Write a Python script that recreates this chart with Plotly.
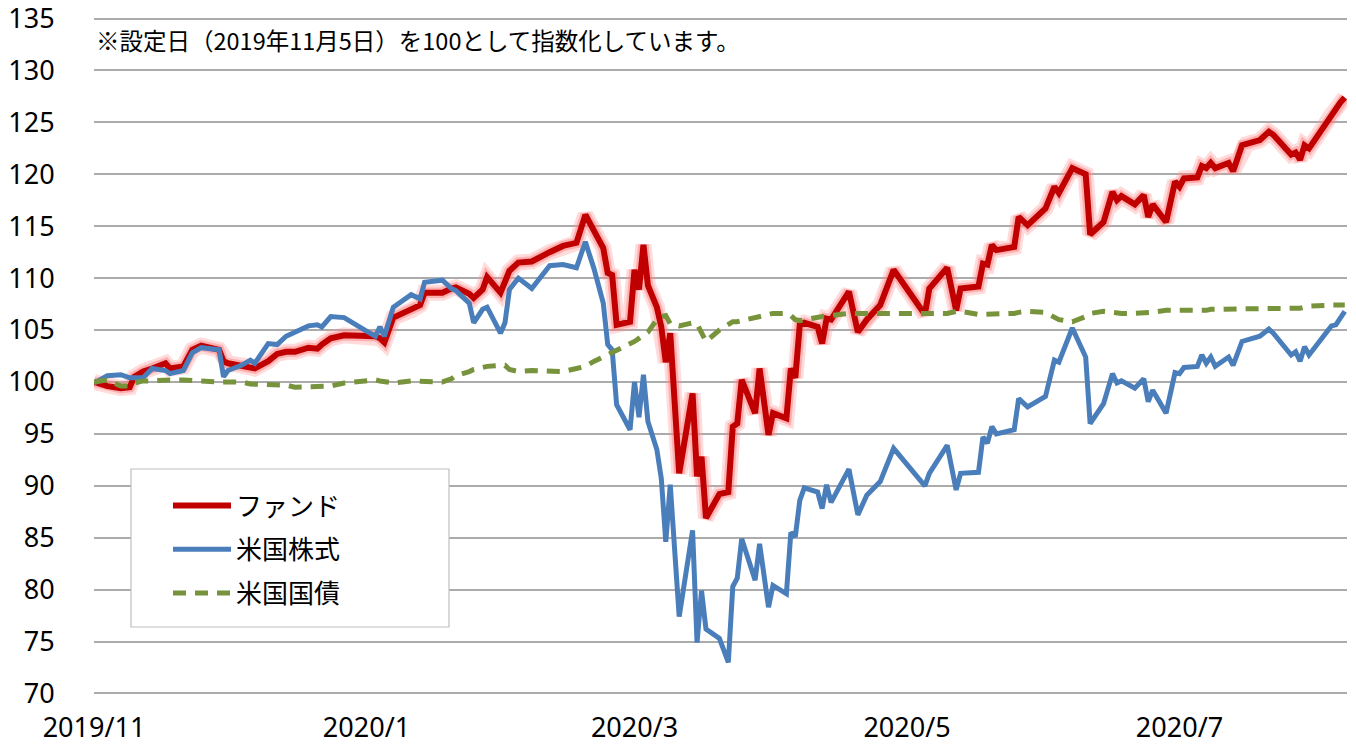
import plotly.graph_objects as go

dates = [
    "2019-11-05", "2019-11-08", "2019-11-11", "2019-11-13", "2019-11-14", "2019-11-16", "2019-11-18", "2019-11-21", "2019-11-22", "2019-11-25",
    "2019-11-27", "2019-11-29", "2019-12-03", "2019-12-04", "2019-12-05", "2019-12-08", "2019-12-10", "2019-12-11", "2019-12-14", "2019-12-16",
    "2019-12-18", "2019-12-20", "2019-12-23", "2019-12-25", "2019-12-26", "2019-12-28", "2019-12-31", "2020-01-05", "2020-01-07", "2020-01-08",
    "2020-01-09", "2020-01-11", "2020-01-15", "2020-01-17", "2020-01-18", "2020-01-22", "2020-01-24", "2020-01-25", "2020-01-28", "2020-01-29",
    "2020-01-31", "2020-02-01", "2020-02-04", "2020-02-05", "2020-02-06", "2020-02-08", "2020-02-11", "2020-02-15", "2020-02-18", "2020-02-21",
    "2020-02-23", "2020-02-25", "2020-02-27", "2020-02-28", "2020-02-29", "2020-03-01", "2020-03-04", "2020-03-05", "2020-03-06", "2020-03-07",
    "2020-03-08", "2020-03-10", "2020-03-11", "2020-03-12", "2020-03-13", "2020-03-15", "2020-03-18", "2020-03-19", "2020-03-20", "2020-03-21",
    "2020-03-24", "2020-03-26", "2020-03-27", "2020-03-28", "2020-03-29", "2020-04-01", "2020-04-02", "2020-04-04", "2020-04-05", "2020-04-08",
    "2020-04-09", "2020-04-10", "2020-04-11", "2020-04-12", "2020-04-15", "2020-04-16", "2020-04-17", "2020-04-18", "2020-04-22", "2020-04-24",
    "2020-04-26", "2020-04-29", "2020-05-02", "2020-05-09", "2020-05-10", "2020-05-14", "2020-05-16", "2020-05-17", "2020-05-21", "2020-05-22",
    "2020-05-23", "2020-05-24", "2020-05-25", "2020-05-29", "2020-05-30", "2020-06-01", "2020-06-05", "2020-06-07", "2020-06-08", "2020-06-11",
    "2020-06-14", "2020-06-15", "2020-06-18", "2020-06-20", "2020-06-21", "2020-06-22", "2020-06-25", "2020-06-27", "2020-06-28", "2020-06-29",
    "2020-07-02", "2020-07-04", "2020-07-05", "2020-07-06", "2020-07-09", "2020-07-10", "2020-07-11", "2020-07-12", "2020-07-13", "2020-07-16",
    "2020-07-17", "2020-07-19", "2020-07-20", "2020-07-23", "2020-07-25", "2020-07-26", "2020-07-30", "2020-07-31", "2020-08-01", "2020-08-02",
    "2020-08-03", "2020-08-08", "2020-08-09", "2020-08-10", "2020-08-11",
]

fund = [
    100.0, 99.6, 99.4, 99.5, 100.5, 101.0, 101.3, 101.8, 101.3, 101.5,
    103.1, 103.5, 103.1, 102.0, 101.8, 101.6, 101.4, 101.3, 102.0, 102.7,
    102.9, 102.9, 103.3, 103.2, 103.6, 104.2, 104.5, 104.5, 104.4, 104.2,
    103.8, 106.2, 106.9, 107.4, 108.6, 108.6, 109.0, 109.1, 108.5, 108.1,
    108.9, 110.1, 108.6, 109.5, 110.7, 111.5, 111.6, 112.5, 113.1, 113.4,
    116.1, 114.5, 112.9, 110.5, 110.3, 105.5, 105.8, 110.8, 108.9, 113.2,
    109.3, 107.2, 105.3, 101.9, 104.7, 91.2, 98.9, 90.9, 92.8, 86.9,
    89.2, 89.4, 95.7, 96.0, 100.2, 97.0, 101.3, 94.9, 97.0, 96.5,
    101.3, 100.4, 105.5, 105.7, 105.3, 103.7, 106.1, 106.0, 108.7, 104.8,
    106.0, 107.4, 110.8, 106.5, 109.0, 111.0, 106.9, 109.0, 109.2, 111.4,
    111.3, 113.2, 112.7, 113.0, 115.9, 115.1, 116.7, 118.8, 118.2, 120.6,
    120.0, 114.2, 115.4, 118.3, 117.5, 117.9, 117.1, 118.0, 115.9, 117.1,
    115.4, 119.3, 118.8, 119.6, 119.7, 120.8, 120.6, 121.1, 120.6, 121.1,
    120.3, 122.8, 122.9, 123.3, 124.1, 123.8, 121.9, 122.1, 121.4, 122.8,
    122.5, 125.7, 126.4, 126.9, 127.4,
]

us_equity = [
    99.9, 100.6, 100.7, 100.4, 100.4, 100.4, 101.3, 101.1, 100.8, 101.1,
    102.8, 103.3, 103.1, 100.5, 101.1, 101.6, 102.1, 101.8, 103.7, 103.6,
    104.4, 104.8, 105.4, 105.5, 105.3, 106.3, 106.2, 104.9, 104.4, 105.3,
    104.4, 107.2, 108.4, 108.0, 109.6, 109.8, 109.0, 108.8, 107.6, 105.7,
    107.0, 107.2, 104.7, 105.7, 108.9, 110.0, 109.0, 111.2, 111.3, 111.0,
    113.5, 110.8, 107.6, 103.6, 103.1, 97.8, 95.4, 100.0, 96.6, 100.7,
    96.2, 93.5, 90.7, 84.6, 90.1, 77.4, 85.7, 74.9, 79.9, 76.2,
    75.3, 73.0, 80.3, 81.1, 84.9, 80.9, 84.4, 78.3, 80.4, 79.6,
    85.5, 85.1, 88.6, 89.8, 89.4, 87.8, 90.1, 88.4, 91.6, 87.2,
    89.1, 90.4, 93.6, 90.0, 91.2, 93.9, 89.6, 91.2, 91.3, 94.7,
    94.1, 95.7, 95.0, 95.4, 98.4, 97.6, 98.6, 102.1, 101.9, 105.2,
    102.4, 96.0, 97.9, 100.8, 99.9, 100.1, 99.4, 100.3, 98.1, 99.2,
    97.0, 100.9, 100.8, 101.4, 101.5, 102.6, 101.8, 102.4, 101.5, 102.4,
    101.6, 103.9, 104.0, 104.4, 105.1, 104.7, 102.6, 102.9, 102.0, 103.4,
    102.6, 105.4, 105.5, 106.2, 106.8,
]

us_treasury = [
    100.0, 100.2, 99.6, 99.6, 99.9, 100.1, 100.1, 100.2, 100.2, 100.2,
    100.2, 100.1, 100.0, 100.0, 100.0, 100.0, 99.8, 99.8, 99.8, 99.8,
    99.7, 99.5, 99.5, 99.5, 99.5, 99.6, 99.9, 100.2, 100.2, 100.1,
    100.0, 99.9, 100.1, 100.1, 100.1, 100.0, 100.3, 100.6, 101.0, 101.2,
    101.4, 101.5, 101.6, 101.6, 101.2, 101.0, 101.1, 101.0, 101.0, 101.3,
    101.5, 102.0, 102.4, 102.6, 102.9, 103.1, 103.6, 103.9, 104.2, 104.5,
    104.8, 106.0, 106.3, 106.4, 105.6, 105.4, 105.7, 105.6, 104.8, 103.9,
    105.0, 105.5, 105.8, 105.8, 105.9, 106.3, 106.3, 106.5, 106.6, 106.6,
    106.4, 106.0, 105.9, 106.0, 106.3, 106.3, 106.3, 106.4, 106.6, 106.6,
    106.5, 106.5, 106.5, 106.5, 106.6, 106.6, 106.8, 106.8, 106.5, 106.5,
    106.5, 106.5, 106.6, 106.6, 106.7, 106.8, 106.7, 106.3, 106.0, 105.8,
    106.3, 106.6, 106.8, 106.7, 106.6, 106.6, 106.6, 106.6, 106.6, 106.7,
    106.9, 106.9, 106.8, 106.8, 106.8, 106.9, 106.9, 107.0, 107.0, 107.0,
    107.0, 107.0, 107.0, 107.0, 107.0, 107.0, 107.0, 107.0, 107.1, 107.2,
    107.3, 107.4, 107.4, 107.4, 107.4,
]

series_names = ["ファンド", "米国株式", "米国国債"]
tick_dates = ["2019-11-05", "2020-01-05", "2020-03-05", "2020-05-05", "2020-07-05"]
tick_labels = ["2019/11", "2020/1", "2020/3", "2020/5", "2020/7"]
y_ticks = list(range(70, 136, 5))
note_text = "※設定日（2019年11月5日）を100として指数化しています。"

FONT = "Noto Sans CJK JP"
NUM_FONT = "Noto Sans"

# plot area in pixels
W, H = 1356, 746
ML, MR, MT, MB = 94, 9, 17, 51
PW, PH = W - ML - MR, H - MT - MB
PB = H - MB  # pixel row of the plot bottom


def px_x(p):
    return (p - ML) / PW


def px_y(p):
    return (PB - p) / PH


fig = go.Figure()

# glow around the fund line
fig.add_trace(go.Scatter(x=dates, y=fund, mode="lines", showlegend=False, hoverinfo="skip",
                         line=dict(color="rgba(255,150,150,0.34)", width=16)))
fig.add_trace(go.Scatter(x=dates, y=fund, mode="lines", showlegend=False, hoverinfo="skip",
                         line=dict(color="rgba(255,110,110,0.40)", width=10.5)))
fig.add_trace(go.Scatter(x=dates, y=fund, mode="lines", name=series_names[0], legendgroup="a",
                         line=dict(color="#C00000", width=6)))
fig.add_trace(go.Scatter(x=dates, y=us_equity, mode="lines", name=series_names[1], legendgroup="b",
                         line=dict(color="#4A7EBB", width=5)))
fig.add_trace(go.Scatter(x=dates, y=us_treasury, mode="lines", name=series_names[2], legendgroup="c",
                         line=dict(color="#77933C", width=5, dash="13px,9px")))

fig.add_annotation(text=note_text, xref="paper", yref="paper", x=0.0, y=px_y(40),
                   xanchor="left", yanchor="middle", showarrow=False,
                   font=dict(family=FONT, size=23.5, color="#000000"))

# legend frame (white box with a grey border, as in the original)
fig.add_shape(type="rect", xref="paper", yref="paper", layer="above",
              x0=px_x(131), x1=px_x(449), y0=px_y(627), y1=px_y(469),
              fillcolor="white", line=dict(color="#BFBFBF", width=1.2))

fig.update_layout(
    width=W, height=H,
    margin=dict(l=ML, r=MR, t=MT, b=MB),
    paper_bgcolor="white", plot_bgcolor="white",
    font=dict(family=FONT, color="#000000"),
    showlegend=True,
    legend=dict(x=px_x(168), y=px_y(482), xanchor="left", yanchor="top",
                bgcolor="rgba(0,0,0,0)", borderwidth=0,
                font=dict(family=FONT, size=26, color="#000000"),
                traceorder="grouped", tracegroupgap=7, itemwidth=58),
    xaxis=dict(type="date", range=["2019-11-05", "2020-08-11 12:00"], automargin=False,
               tickmode="array", tickvals=tick_dates, ticktext=tick_labels,
               showgrid=False, zeroline=False, showline=False,
               ticks="outside", ticklen=9, tickcolor="rgba(0,0,0,0)",
               ticklabeloverflow="allow",
               tickfont=dict(family=NUM_FONT, size=27, color="#000000")),
    yaxis=dict(range=[69.85, 135.15], automargin=False, tickmode="array", tickvals=y_ticks,
               showgrid=True, gridcolor="#ABABAB", gridwidth=2,
               zeroline=False, showline=False,
               ticks="outside", ticklen=33, tickcolor="rgba(0,0,0,0)",
               ticklabeloverflow="allow",
               tickfont=dict(family=NUM_FONT, size=27, color="#000000")),
)

fig.write_html("out.html", config={"displayModeBar": False},
               post_script="document.body.style.margin='0';document.body.style.overflow='hidden';")
